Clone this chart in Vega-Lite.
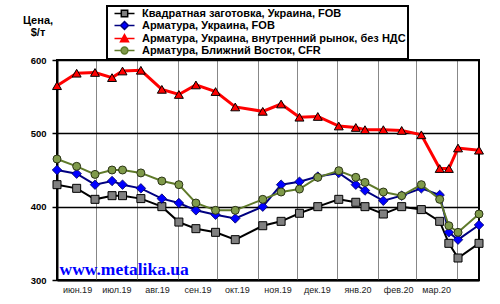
{
 "$schema": "https://vega.github.io/schema/vega-lite/v6.json",
 "width": 422,
 "height": 220,
 "autosize": {"type": "none"},
 "padding": {"left": 57, "top": 60, "right": 21, "bottom": 24},
 "background": "white",
 "data": {"values": [
  {"d":"2019-06-01","s":"a","v":430},{"d":"2019-06-16","s":"a","v":425},{"d":"2019-06-30","s":"a","v":410},{"d":"2019-07-13","s":"a","v":415},{"d":"2019-07-21","s":"a","v":415},{"d":"2019-08-04","s":"a","v":411},{"d":"2019-08-20","s":"a","v":400},{"d":"2019-09-02","s":"a","v":379},{"d":"2019-09-15","s":"a","v":370},{"d":"2019-09-30","s":"a","v":365},{"d":"2019-10-15","s":"a","v":355},{"d":"2019-11-05","s":"a","v":374},{"d":"2019-11-19","s":"a","v":380},{"d":"2019-12-03","s":"a","v":391},{"d":"2019-12-17","s":"a","v":400},{"d":"2020-01-02","s":"a","v":410},{"d":"2020-01-15","s":"a","v":406},{"d":"2020-01-22","s":"a","v":400},{"d":"2020-02-05","s":"a","v":390},{"d":"2020-02-19","s":"a","v":400},{"d":"2020-03-05","s":"a","v":396},{"d":"2020-03-19","s":"a","v":380},{"d":"2020-03-26","s":"a","v":350},{"d":"2020-04-02","s":"a","v":330},{"d":"2020-04-18","s":"a","v":350},
  {"d":"2019-06-01","s":"b","v":450},{"d":"2019-06-16","s":"b","v":445},{"d":"2019-06-30","s":"b","v":430},{"d":"2019-07-13","s":"b","v":435},{"d":"2019-07-21","s":"b","v":430},{"d":"2019-08-04","s":"b","v":425},{"d":"2019-08-20","s":"b","v":411},{"d":"2019-09-02","s":"b","v":405},{"d":"2019-09-15","s":"b","v":395},{"d":"2019-09-30","s":"b","v":389},{"d":"2019-10-15","s":"b","v":384},{"d":"2019-11-05","s":"b","v":400},{"d":"2019-11-19","s":"b","v":430},{"d":"2019-12-03","s":"b","v":434},{"d":"2019-12-17","s":"b","v":441},{"d":"2020-01-02","s":"b","v":446},{"d":"2020-01-15","s":"b","v":430},{"d":"2020-01-22","s":"b","v":422},{"d":"2020-02-05","s":"b","v":408},{"d":"2020-02-19","s":"b","v":415},{"d":"2020-03-05","s":"b","v":425},{"d":"2020-03-19","s":"b","v":416},{"d":"2020-03-26","s":"b","v":365},{"d":"2020-04-02","s":"b","v":355},{"d":"2020-04-18","s":"b","v":375},
  {"d":"2019-06-01","s":"c","v":565},{"d":"2019-06-16","s":"c","v":582},{"d":"2019-06-30","s":"c","v":583},{"d":"2019-07-13","s":"c","v":576},{"d":"2019-07-21","s":"c","v":585},{"d":"2019-08-04","s":"c","v":586},{"d":"2019-08-20","s":"c","v":560},{"d":"2019-09-02","s":"c","v":553},{"d":"2019-09-15","s":"c","v":566},{"d":"2019-09-30","s":"c","v":557},{"d":"2019-10-15","s":"c","v":536},{"d":"2019-11-05","s":"c","v":530},{"d":"2019-11-19","s":"c","v":540},{"d":"2019-12-03","s":"c","v":522},{"d":"2019-12-17","s":"c","v":523},{"d":"2020-01-02","s":"c","v":510},{"d":"2020-01-15","s":"c","v":508},{"d":"2020-01-22","s":"c","v":505},{"d":"2020-02-05","s":"c","v":505},{"d":"2020-02-19","s":"c","v":504},{"d":"2020-03-05","s":"c","v":498},{"d":"2020-03-19","s":"c","v":452},{"d":"2020-03-26","s":"c","v":452},{"d":"2020-04-02","s":"c","v":480},{"d":"2020-04-18","s":"c","v":477},
  {"d":"2019-06-01","s":"g","v":465},{"d":"2019-06-16","s":"g","v":455},{"d":"2019-06-30","s":"g","v":444},{"d":"2019-07-13","s":"g","v":450},{"d":"2019-07-21","s":"g","v":450},{"d":"2019-08-04","s":"g","v":446},{"d":"2019-08-20","s":"g","v":435},{"d":"2019-09-02","s":"g","v":430},{"d":"2019-09-15","s":"g","v":405},{"d":"2019-09-30","s":"g","v":395},{"d":"2019-10-15","s":"g","v":395},{"d":"2019-11-05","s":"g","v":410},{"d":"2019-11-19","s":"g","v":420},{"d":"2019-12-03","s":"g","v":424},{"d":"2019-12-17","s":"g","v":440},{"d":"2020-01-02","s":"g","v":449},{"d":"2020-01-15","s":"g","v":440},{"d":"2020-01-22","s":"g","v":433},{"d":"2020-02-05","s":"g","v":420},{"d":"2020-02-19","s":"g","v":415},{"d":"2020-03-05","s":"g","v":430},{"d":"2020-03-19","s":"g","v":410},{"d":"2020-03-26","s":"g","v":374},{"d":"2020-04-02","s":"g","v":365},{"d":"2020-04-18","s":"g","v":390}
 ]},
 "encoding": {
  "x": {"field": "d", "type": "temporal",
   "scale": {"type": "utc", "domain": [{"year": 2019, "month": 6, "date": 1, "utc": true}, {"year": 2020, "month": 4, "date": 18, "utc": true}]},
   "axis": {"title": "www.metalika.ua",
    "values": [{"year":2019,"month":6,"date":1,"utc":true},{"year":2019,"month":7,"date":1,"utc":true},{"year":2019,"month":8,"date":1,"utc":true},{"year":2019,"month":9,"date":1,"utc":true},{"year":2019,"month":10,"date":1,"utc":true},{"year":2019,"month":11,"date":1,"utc":true},{"year":2019,"month":12,"date":1,"utc":true},{"year":2020,"month":1,"date":1,"utc":true},{"year":2020,"month":2,"date":1,"utc":true},{"year":2020,"month":3,"date":1,"utc":true},{"year":2020,"month":4,"date":1,"utc":true}],
    "labelExpr": "utcmonth(datum.value) == 3 ? '' : ['янв','фев','мар','апр','май','июн','июл','авг','сен','окт','ноя','дек'][utcmonth(datum.value)] + '.' + utcFormat(datum.value, '%y')",
    "titleFont": "Liberation Serif", "titleFontSize": 17.5, "titleFontWeight": "bold", "titleColor": "#0000ff",
    "titleX": 2, "titleY": -5.5, "titleAlign": "left", "titleBaseline": "alphabetic", "titleAnchor": "start"}},
  "y": {"field": "v", "type": "quantitative",
   "scale": {"domain": [300, 600], "nice": false, "zero": false},
   "axis": {"title": ["Цена,", "$/т"], "values": [300, 400, 500, 600],
    "titleAngle": 0, "titleAlign": "center", "titleBaseline": "alphabetic", "titleX": -19.5, "titleY": -37,
    "titleFontSize": 11, "titleFontWeight": "bold", "titleLineHeight": 12, "titleColor": "black"}}
 },
 "layer": [
  {"transform": [{"filter": "datum.s == 'a'"}], "mark": {"type": "line", "color": "black", "strokeWidth": 2}},
  {"transform": [{"filter": "datum.s == 'a'"}], "mark": {"type": "point", "filled": true, "shape": "square", "size": 64, "fill": "#808080", "stroke": "black", "strokeWidth": 1, "opacity": 1}},
  {"transform": [{"filter": "datum.s == 'b'"}], "mark": {"type": "line", "color": "#000080", "strokeWidth": 2}},
  {"transform": [{"filter": "datum.s == 'b'"}], "mark": {"type": "point", "filled": true, "shape": "diamond", "size": 90, "fill": "#0000ff", "stroke": "#000060", "strokeWidth": 0.8, "opacity": 1}},
  {"transform": [{"filter": "datum.s == 'c'"}], "mark": {"type": "line", "color": "#ff0000", "strokeWidth": 3}},
  {"transform": [{"filter": "datum.s == 'c'"}], "mark": {"type": "point", "filled": true, "shape": "triangle-up", "size": 80, "fill": "#ff0000", "stroke": "black", "strokeWidth": 1, "opacity": 1}},
  {"transform": [{"filter": "datum.s == 'g'"}], "mark": {"type": "line", "color": "#5f7a2a", "strokeWidth": 2}},
  {"transform": [{"filter": "datum.s == 'g'"}], "mark": {"type": "point", "filled": true, "shape": "circle", "size": 64, "fill": "#7f9a4a", "stroke": "#2a3315", "strokeWidth": 1, "opacity": 1}},
  {"transform": [{"filter": "false"}], "mark": {"type": "point", "filled": true, "opacity": 1},
   "encoding": {
    "shape": {"field": "s", "type": "nominal", "title": null,
     "scale": {"domain": ["Квадратная заготовка, Украина, FOB", "Арматура, Украина, FOB", "Арматура, Украина, внутренний рынок, без НДС", "Арматура, Ближний Восток, CFR"],
      "range": ["M-2.5,0H-0.8M0.8,0H2.5M-0.8,-0.8H0.8V0.8H-0.8Z", "M-2.5,0H-1M1,0H2.5M0,-1L1,0L0,1L-1,0Z", "M-2.5,0H-0.55M0.55,0H2.5M0,-1L1,0.8L-1,0.8Z", "M-2.5,0H-0.85M0.85,0H2.5M-0.85,0A0.85,0.85,0,1,1,0.85,0A0.85,0.85,0,1,1,-0.85,0Z"]}},
    "fill": {"field": "s", "type": "nominal", "title": null,
     "scale": {"domain": ["Квадратная заготовка, Украина, FOB", "Арматура, Украина, FOB", "Арматура, Украина, внутренний рынок, без НДС", "Арматура, Ближний Восток, CFR"],
      "range": ["#808080", "#0000ff", "#ff0000", "#7f9a4a"]}},
    "stroke": {"field": "s", "type": "nominal", "title": null,
     "scale": {"domain": ["Квадратная заготовка, Украина, FOB", "Арматура, Украина, FOB", "Арматура, Украина, внутренний рынок, без НДС", "Арматура, Ближний Восток, CFR"],
      "range": ["#000000", "#000080", "#ff0000", "#5f7a2a"]}}
   }}
 ],
 "config": {
  "font": "Liberation Sans",
  "view": {"stroke": "black", "strokeWidth": 2},
  "axisX": {"grid": true, "gridColor": "#888888", "gridWidth": 1, "ticks": false, "domainColor": "black", "domainWidth": 2,
   "labelFontSize": 9, "labelColor": "#222222", "labelPadding": 5, "labelFlush": false, "labelOverlap": false, "labelOffset": 20, "labelBound": false},
  "axisY": {"grid": true, "gridColor": "black", "gridWidth": 1.5, "tickColor": "black", "tickSize": 5, "tickWidth": 1.5,
   "domainColor": "black", "domainWidth": 2, "labelFontSize": 9.5, "labelFontWeight": "bold", "labelColor": "black", "labelPadding": 6},
  "legend": {"orient": "none", "legendX": 50, "legendY": -54, "direction": "vertical", "symbolSize": 64, "symbolStrokeWidth": 1.5,
   "symbolOffset": 10, "labelOffset": 12, "labelFontSize": 11, "labelFontWeight": "bold", "labelFont": "Liberation Sans", "labelColor": "black", "labelLimit": 400,
   "padding": 2, "rowPadding": -3.7, "strokeColor": "black", "strokeWidth": 2, "fillColor": "white"}
 }
}
